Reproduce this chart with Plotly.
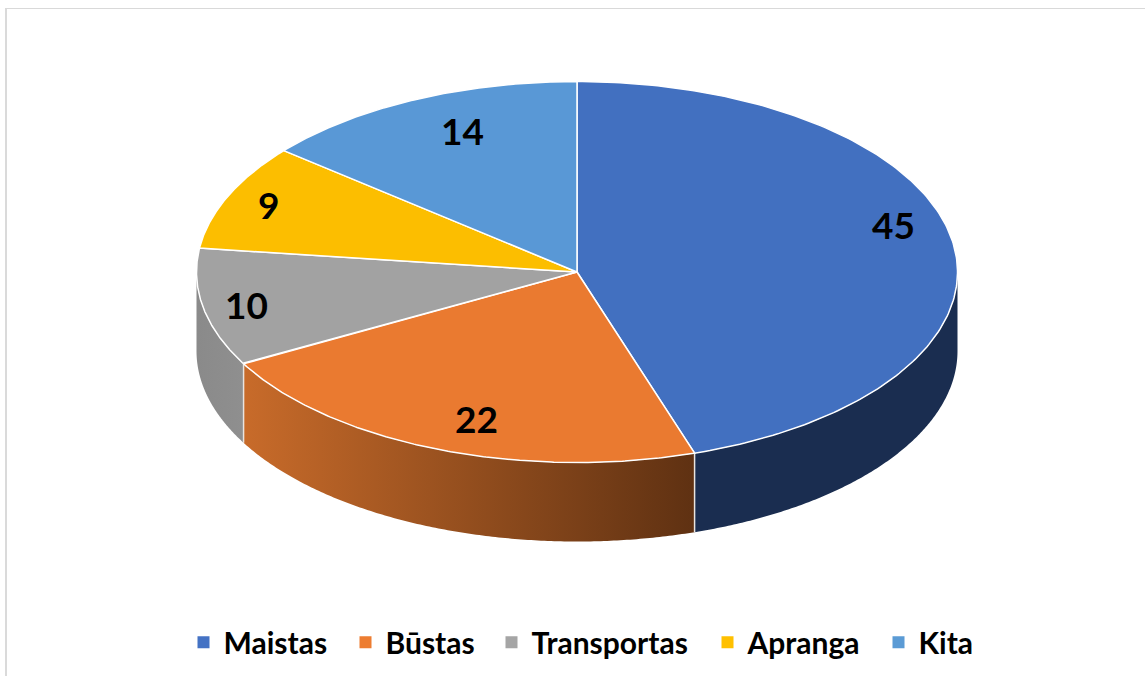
import numpy as np
import plotly.graph_objects as go

categories = ["Maistas", "Būstas", "Transportas", "Apranga", "Kita"]
values = [45, 22, 10, 9, 14]
top_colors = ["#4472C4", "#ED7D31", "#A5A5A5", "#FFC000", "#5B9BD5"]
slice_colors = ["#4270C0", "#EA7A30", "#A2A2A2", "#FCBE00", "#5998D6"]

# Wall shading per slice: left colour, right colour (None = wall hidden)
wall_colors = [("#1A2D50", "#1A2D50"), ("#C86B2A", "#5F3112"), ("#8A8A8A", "#8F8F8F"), None, None]

# Layout of the projected pie, in canvas pixels
W, H = 1145, 676
CX, CY, RX, RY, DEPTH = 577.0, 272.0, 380.5, 190.5, 79.0
FONT = "Lato, Carlito, Calibri, sans-serif"
LABEL_XY = [(893, 224), (476, 418), (246, 304), (268, 204), (462, 130)]
LEGEND_TEXT_X = [224, 386, 532, 748, 919]


def px(t):
    return CX + RX * np.sin(t)


def py(t):
    return CY - RY * np.cos(t)


fractions = np.array(values, dtype=float) / sum(values)
edges = np.concatenate([[0.0], np.cumsum(fractions)]) * 2 * np.pi

fig = go.Figure()

# Side walls (only the part facing the viewer, pi/2 .. 3pi/2)
for i, shade in enumerate(wall_colors):
    if shade is None:
        continue
    a = max(edges[i], np.pi / 2)
    b = min(edges[i + 1], 3 * np.pi / 2)
    t = np.linspace(a, b, 160)
    xs = np.concatenate([px(t), px(t)[::-1]])
    ys = np.concatenate([py(t), py(t)[::-1] + DEPTH])
    xs = np.append(xs, xs[0])
    ys = np.append(ys, ys[0])
    fig.add_trace(go.Scatter(
        x=xs, y=ys, mode="none", fill="toself",
        fillgradient=dict(
            type="horizontal",
            colorscale=[[0, shade[0]], [1, shade[1]]],
            start=float(xs.min()), stop=float(xs.max()),
        ),
        showlegend=False, hoverinfo="skip",
    ))

# White seams between wall pieces
for e in edges[1:-1]:
    if np.pi / 2 < e < 3 * np.pi / 2:
        fig.add_trace(go.Scatter(
            x=[px(e), px(e)], y=[py(e), py(e) + DEPTH], mode="lines",
            line=dict(color="#E9E4E0", width=1.5), showlegend=False, hoverinfo="skip",
        ))

# Top faces
for i in range(len(values)):
    t = np.linspace(edges[i], edges[i + 1], 200)
    xs = np.concatenate([[CX], px(t), [CX]])
    ys = np.concatenate([[CY], py(t), [CY]])
    fig.add_trace(go.Scatter(
        x=xs, y=ys, mode="lines", fill="toself", fillcolor=slice_colors[i],
        line=dict(color="white", width=1.5), showlegend=False, hoverinfo="skip",
    ))

# Legend entries: one small legend per category so each sits where the reference has it
legend_layout = {}
for i, (name, color, tx) in enumerate(zip(categories, top_colors, LEGEND_TEXT_X)):
    key = "legend" if i == 0 else f"legend{i + 1}"
    fig.add_trace(go.Scatter(
        x=[None], y=[None], mode="markers", name=name, legend=key,
        marker=dict(symbol="square", size=12, color=color),
    ))
    legend_layout[key] = dict(
        x=(tx - 40.5) / W, xanchor="left", y=0.0885, yanchor="top",
        orientation="h",
        font=dict(family=FONT, size=30, color="black", weight="bold"),
        itemsizing="constant", bgcolor="rgba(0,0,0,0)",
    )

# Value labels
for (lx, ly), v in zip(LABEL_XY, values):
    fig.add_annotation(
        x=lx, y=ly, text=str(v), showarrow=False,
        font=dict(family=FONT, size=37, color="black", weight="bold"),
    )

# Outer frame, left and top edges only
fig.add_shape(type="line", x0=6, x1=6, y0=8, y1=H, line=dict(color="#DADADA", width=2), layer="below")
fig.add_shape(type="line", x0=5, x1=W, y0=8.5, y1=8.5, line=dict(color="#D9D9D9", width=1), layer="below")

fig.update_layout(
    width=W, height=H, margin=dict(l=0, r=0, t=0, b=0),
    paper_bgcolor="white", plot_bgcolor="white",
    xaxis=dict(range=[0, W], visible=False, fixedrange=True),
    yaxis=dict(range=[H, 0], visible=False, fixedrange=True),
    **legend_layout,
)

fig.write_html(
    "out.html",
    config={"displayModeBar": False},
    post_script="document.body.style.margin='0';document.body.style.overflow='hidden';",
)
